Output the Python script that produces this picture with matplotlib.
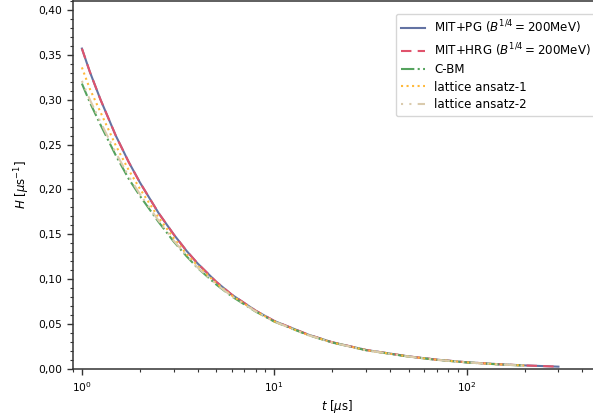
import numpy as np
import matplotlib
matplotlib.use("Agg")
from matplotlib import pyplot as plt
from matplotlib.ticker import FuncFormatter, MultipleLocator

# time [mu s] and Hubble rate [1/mu s]
t_mit = [1, 1.1, 1.25, 1.5, 1.75, 2, 2.5, 3, 3.5, 4, 5, 6, 8, 10, 15, 20, 30, 50, 70,
         100, 150, 200, 300]
H_pg = [0.357, 0.331, 0.300, 0.260, 0.2307, 0.208, 0.174, 0.150, 0.1316, 0.1175, 0.097,
        0.083, 0.065, 0.0535, 0.0383, 0.0298, 0.0212, 0.0140, 0.0104, 0.0075, 0.0052,
        0.0040, 0.0026]
H_hrg = [0.357, 0.331, 0.300, 0.260, 0.2307, 0.208, 0.174, 0.150, 0.1316, 0.1175, 0.097,
         0.083, 0.065, 0.0535, 0.0383, 0.0298, 0.0212, 0.0140, 0.0104, 0.0075, 0.0052,
         0.0040, 0.0026]

t_lat = [1, 1.1, 1.25, 1.5, 1.75, 2, 2.5, 3, 3.5, 4, 5, 6, 8, 10, 15, 20, 30, 50, 70,
         100, 150, 200]
H_cbm = [0.318, 0.297, 0.272, 0.238, 0.212, 0.193, 0.164, 0.142, 0.1256, 0.1125, 0.094,
         0.081, 0.064, 0.0528, 0.0378, 0.0295, 0.0209, 0.0138, 0.0102, 0.0073, 0.0050,
         0.0038]
H_lat1 = [0.336, 0.312, 0.286, 0.249, 0.2217, 0.201, 0.169, 0.146, 0.128, 0.115, 0.0955,
          0.082, 0.0645, 0.0530, 0.0379, 0.0296, 0.0210, 0.0139, 0.0103, 0.0074, 0.0051,
          0.0039]
H_lat2 = [0.321, 0.300, 0.275, 0.241, 0.2147, 0.195, 0.1655, 0.143, 0.1266, 0.113, 0.0945,
          0.0813, 0.0642, 0.0529, 0.0378, 0.0295, 0.0209, 0.0138, 0.0102, 0.0073, 0.0050,
          0.0038]

labels = [r"MIT+PG ($B^{1/4}=200$MeV)", r"MIT+HRG ($B^{1/4}=200$MeV)", "C-BM",
          "lattice ansatz-1", "lattice ansatz-2"]

W, H = 593, 419
fig = plt.figure(figsize=(W / 100, H / 100), dpi=100)
ax = fig.add_axes([73.1 / W, 50 / H, 528 / W, 368 / H])

lw = 1.5
ax.plot(t_mit, H_pg, color="#6373a3", lw=lw, ls="-", label=labels[0])
ax.plot(t_mit, H_hrg, color="#e0536c", lw=lw, ls=(0, (5, 3)), label=labels[1])
ax.plot(t_lat, H_cbm, color="#55a35e", lw=lw, ls="-.", label=labels[2])
ax.plot(t_lat, H_lat1, color="#ffb93a", lw=lw, ls=":", label=labels[3])
ax.plot(t_lat, H_lat2, color="#dacbad", lw=lw, ls=(0, (1, 3, 1, 3, 6, 2)), label=labels[4])

ax.set_xscale("log")
ax.set_xlim(0.9, 500)
ax.set_ylim(0, 0.41)
ax.yaxis.set_major_locator(MultipleLocator(0.05))
ax.yaxis.set_minor_locator(MultipleLocator(0.01))
ax.yaxis.set_major_formatter(FuncFormatter(lambda v, p: f"{v:.2f}".replace(".", ",")))

for s in ax.spines.values():
    s.set_linewidth(1.1)
    s.set_color("#333333")
ax.tick_params(which="major", length=4.5, width=1.0, color="#333333", labelsize=7.7)
ax.tick_params(which="minor", length=2.5, width=0.8, color="#333333")

ax.set_xlabel(r"$t$ [$\mu$s]", fontsize=8.5, labelpad=3)
ax.set_ylabel(r"$H$ [$\mu$s$^{-1}$]", fontsize=8.5, labelpad=4)

ax.legend(loc="upper left", bbox_to_anchor=(396 / W, 1 - 14 / H),
          bbox_transform=fig.transFigure, borderaxespad=0,
          fontsize=8.6, handlelength=2.0, labelspacing=0.38, framealpha=0.8)

fig.savefig("out.png", dpi=100)
